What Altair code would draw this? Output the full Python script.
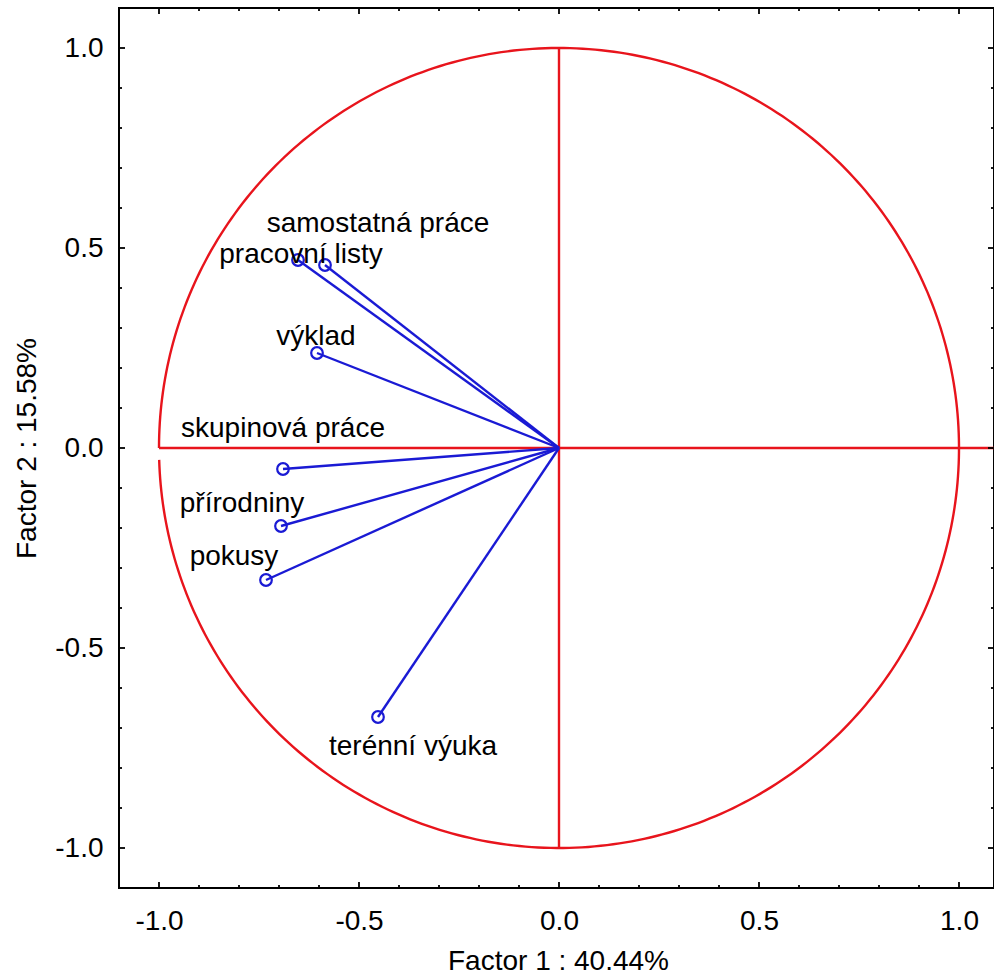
import altair as alt
import pandas as pd
import numpy as np

# ---- data ----
variables = ["samostatná práce", "pracovní listy", "výklad", "skupinová práce",
             "přírodniny", "pokusy", "terénní výuka"]
factor1 = [-0.585, -0.6525, -0.605, -0.69, -0.695, -0.7325, -0.4525]
factor2 = [0.4575, 0.47, 0.2375, -0.0525, -0.195, -0.33, -0.6725]
label_x = [-0.4525, -0.645, -0.6075, -0.69, -0.7925, -0.8125, -0.365]
label_y = [0.54, 0.4625, 0.2575, 0.0275, -0.16, -0.2925, -0.7675]

major_ticks = [-1.0, -0.5, 0.0, 0.5, 1.0]
minor_ticks = [-0.9, -0.8, -0.7, -0.6, -0.4, -0.3, -0.2, -0.1,
               0.1, 0.2, 0.3, 0.4, 0.6, 0.7, 0.8, 0.9]

x_title = "Factor 1 : 40.44%"
y_title = "Factor 2 : 15.58%"

RED = "#e8141c"
BLUE = "#1a1ad4"
FONT = "Liberation Sans"

W, H = 875, 880
xs = alt.Scale(domain=[-1.1, 1.0875], nice=False, zero=False)
ys = alt.Scale(domain=[-1.1, 1.1], nice=False, zero=False)

pts = pd.DataFrame({"var": variables, "f1": factor1, "f2": factor2,
                    "lx": label_x, "ly": label_y})

# unit circle (correlation circle), with the small gap just below the left axis
theta = np.linspace(np.deg2rad(181.7), np.deg2rad(540), 400)
circ = pd.DataFrame({"i": np.arange(len(theta)), "cx": np.cos(theta), "cy": np.sin(theta)})

lbl = "replace(format(datum.value, '.1f'), '\u2212', '-')"

base_x = alt.X("cx:Q", scale=xs, axis=alt.Axis(
    values=major_ticks, labelExpr=lbl, title=x_title, grid=False, domain=False,
    ticks=False, tickSize=0, labelPadding=19, labelFontSize=28, labelFont=FONT,
    labelColor="black", labelFlush=False, titleFontSize=28, titleFont=FONT,
    titleFontWeight="normal", titleColor="black", titleX=439, titleY=81,
    titleBaseline="alphabetic", titleAlign="center"))
base_y = alt.Y("cy:Q", scale=ys, axis=alt.Axis(
    values=major_ticks, labelExpr=lbl, title=y_title, grid=False, domain=False,
    ticks=False, tickSize=0, labelPadding=16, labelFontSize=28, labelFont=FONT,
    labelColor="black", labelFlush=False, titleFontSize=28, titleFont=FONT,
    titleFontWeight="normal", titleColor="black", titleAngle=-90, titleX=-84,
    titleY=440, titleBaseline="alphabetic", titleAlign="center"))

circle = alt.Chart(circ).mark_line(color=RED, strokeWidth=2.4).encode(
    x=base_x, y=base_y, order="i:Q")

axes_df = pd.DataFrame({"a": [-1.0], "b": [1.0], "z": [0.0]})
hline = alt.Chart(axes_df).mark_rule(color=RED, strokeWidth=2.4).encode(
    x=alt.X("a:Q", scale=xs), x2=alt.value(W), y=alt.Y("z:Q", scale=ys))
vline = alt.Chart(axes_df).mark_rule(color=RED, strokeWidth=2.4).encode(
    x=alt.X("z:Q", scale=xs), y=alt.Y("a:Q", scale=ys), y2="b:Q")

vectors = alt.Chart(pts).mark_rule(color=BLUE, strokeWidth=2.4).encode(
    x=alt.X("f1:Q", scale=xs), y=alt.Y("f2:Q", scale=ys),
    x2=alt.datum(0), y2=alt.datum(0))
points = alt.Chart(pts).mark_point(shape="circle", filled=False, color=BLUE,
                                   size=135, strokeWidth=2.2, opacity=1).encode(
    x=alt.X("f1:Q", scale=xs), y=alt.Y("f2:Q", scale=ys))
labels = alt.Chart(pts).mark_text(font=FONT, fontSize=28, color="black",
                                  align="center", baseline="alphabetic").encode(
    x=alt.X("lx:Q", scale=xs), y=alt.Y("ly:Q", scale=ys), text="var:N")

maj = pd.DataFrame({"v": major_ticks})
mino = pd.DataFrame({"v": minor_ticks})


def tick_layers(df, ln):
    c = alt.Chart(df).mark_rule(color="black", strokeWidth=1.8)
    return [
        c.encode(x=alt.X("v:Q", scale=xs), y=alt.value(H), y2=alt.value(H - ln)),
        c.encode(x=alt.X("v:Q", scale=xs), y=alt.value(0), y2=alt.value(ln)),
        c.encode(y=alt.Y("v:Q", scale=ys), x=alt.value(0), x2=alt.value(ln)),
        c.encode(y=alt.Y("v:Q", scale=ys), x=alt.value(W), x2=alt.value(W - ln)),
    ]


chart = alt.layer(
    circle, hline, vline, vectors, points, labels,
    *tick_layers(maj, 6), *tick_layers(mino, 3)
).properties(
    width=W, height=H,
    autosize=alt.AutoSizeParams(type="none"),
    padding={"left": 119, "top": 8, "right": 0, "bottom": 92},
    background="white",
).configure_view(stroke="black", strokeWidth=2)

chart.save("out.html", embed_options={"renderer": "svg", "actions": False})
